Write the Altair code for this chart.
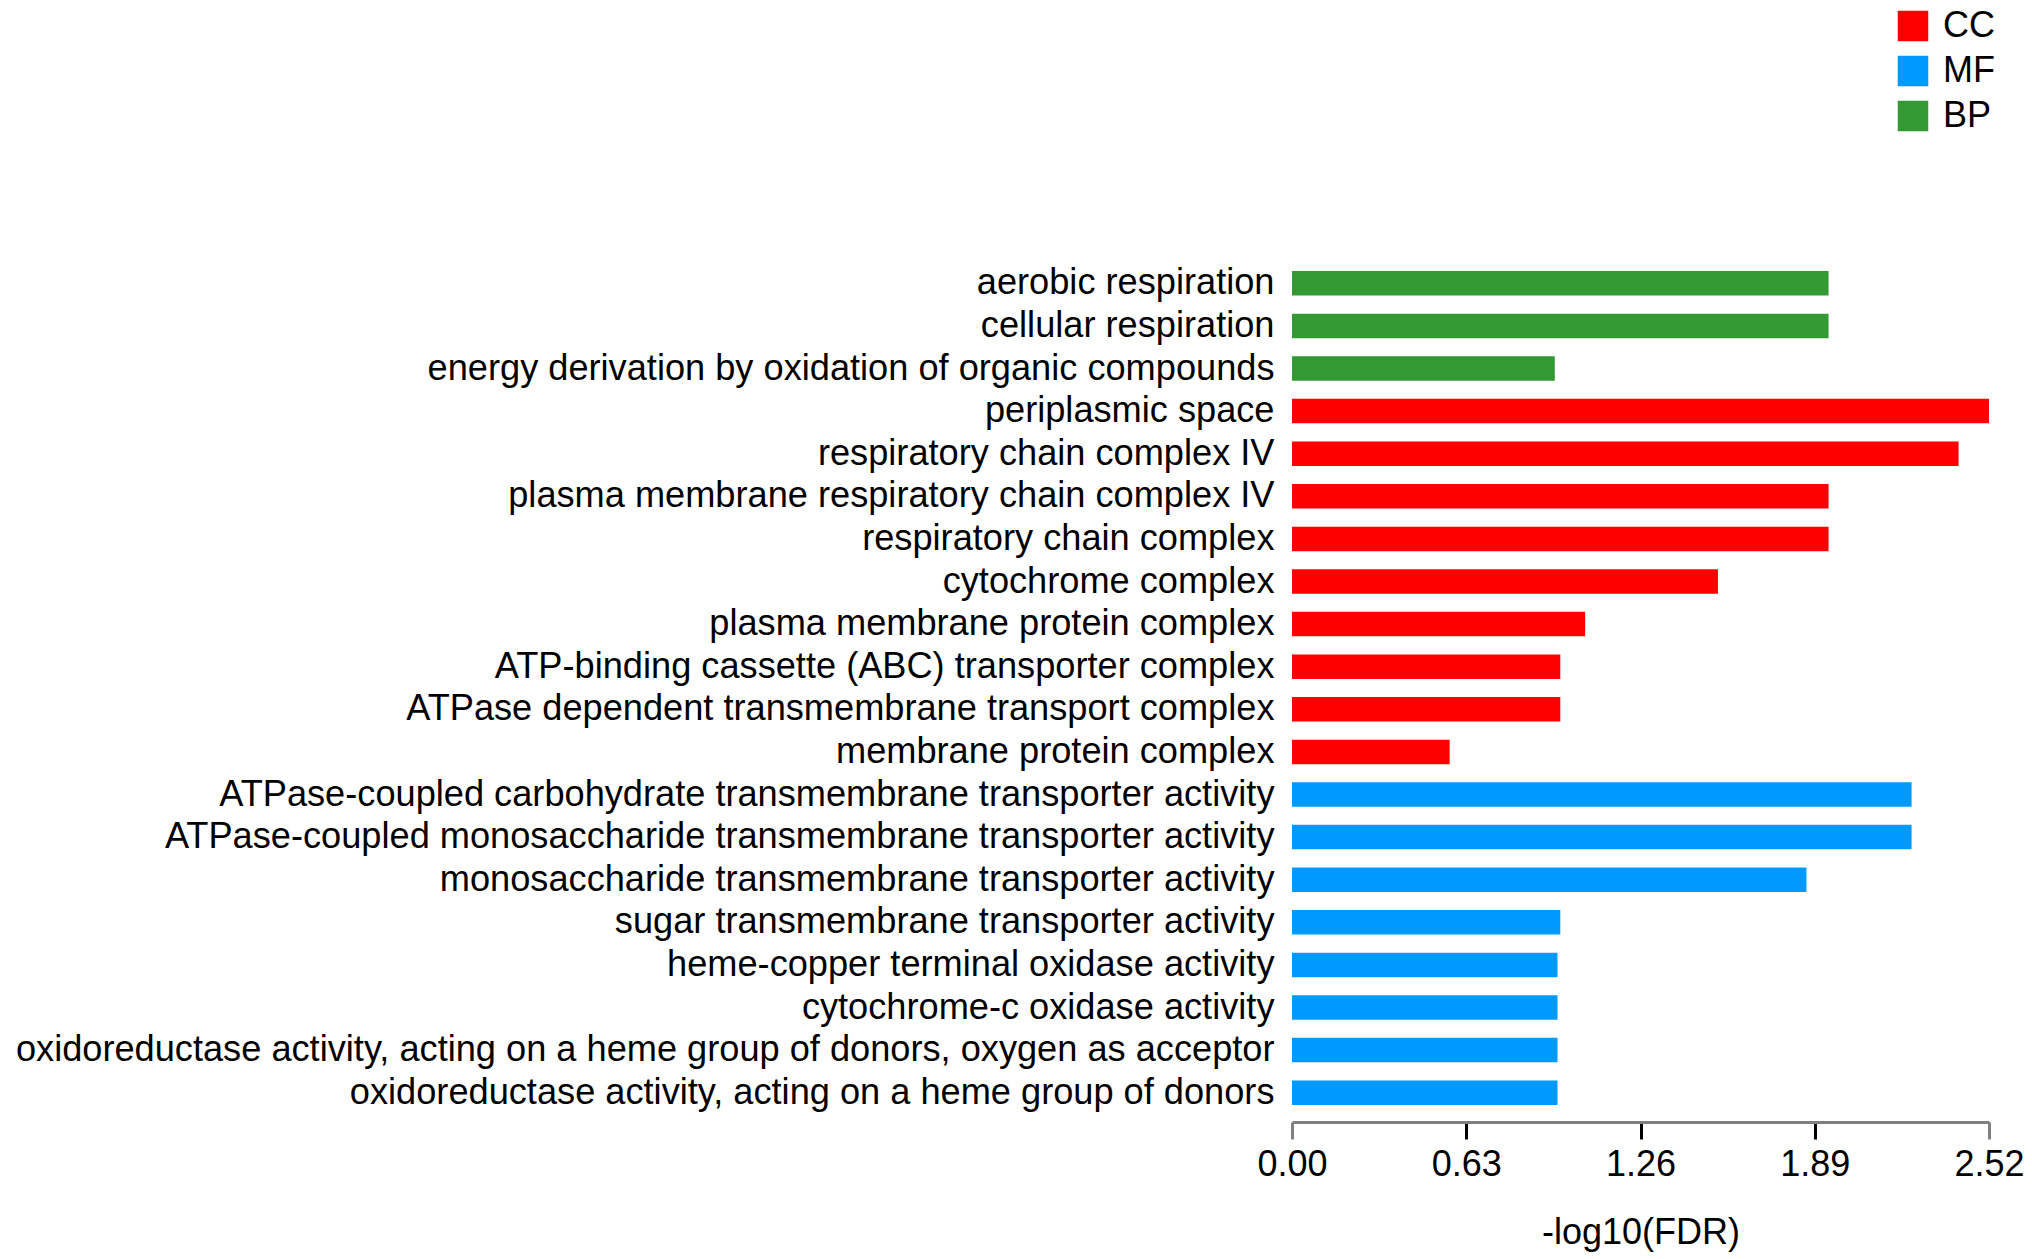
import altair as alt
import pandas as pd

terms = [
    "aerobic respiration",
    "cellular respiration",
    "energy derivation by oxidation of organic compounds",
    "periplasmic space",
    "respiratory chain complex IV",
    "plasma membrane respiratory chain complex IV",
    "respiratory chain complex",
    "cytochrome complex",
    "plasma membrane protein complex",
    "ATP-binding cassette (ABC) transporter complex",
    "ATPase dependent transmembrane transport complex",
    "membrane protein complex",
    "ATPase-coupled carbohydrate transmembrane transporter activity",
    "ATPase-coupled monosaccharide transmembrane transporter activity",
    "monosaccharide transmembrane transporter activity",
    "sugar transmembrane transporter activity",
    "heme-copper terminal oxidase activity",
    "cytochrome-c oxidase activity",
    "oxidoreductase activity, acting on a heme group of donors, oxygen as acceptor",
    "oxidoreductase activity, acting on a heme group of donors",
]
values = [1.94, 1.94, 0.95, 2.52, 2.41, 1.94, 1.94, 1.54, 1.06, 0.97, 0.97, 0.57,
          2.24, 2.24, 1.86, 0.97, 0.96, 0.96, 0.96, 0.96]
groups = ["BP", "BP", "BP", "CC", "CC", "CC", "CC", "CC", "CC", "CC", "CC", "CC",
          "MF", "MF", "MF", "MF", "MF", "MF", "MF", "MF"]

legend_order = ["CC", "MF", "BP"]
legend_colors = ["#FF0000", "#0099FF", "#339933"]
tick_values = [0.00, 0.63, 1.26, 1.89, 2.52]

df = pd.DataFrame({"term": terms, "value": values, "group": groups})

FONT = "Liberation Sans"

chart = alt.Chart(df).mark_bar(size=24.5).encode(
    y=alt.Y("term:N", sort=terms, title=None,
            axis=alt.Axis(domain=False, ticks=False, labelPadding=18,
                          labelFontSize=36.2, labelFont=FONT, labelColor="black",
                          labelLimit=0)),
    x=alt.X("value:Q", title="-log10(FDR)",
            scale=alt.Scale(domain=[0, 2.52], nice=False, zero=True),
            axis=alt.Axis(values=tick_values, format=".2f", grid=False,
                          domainColor="#808080", domainWidth=3,
                          tickColor={"condition": {"test": "datum.value == 0 || datum.value == 2.52",
                                                   "value": "#808080"}, "value": "black"},
                          tickWidth=3, tickSize=17, offset=8,
                          labelPadding=8, labelFontSize=36, labelFont=FONT,
                          labelColor="black", labelFlush=False,
                          titleFontSize=36, titleFont=FONT, titleFontWeight="normal",
                          titleColor="black", titlePadding=33)),
    color=alt.Color("group:N",
                    scale=alt.Scale(domain=legend_order, range=legend_colors),
                    legend=alt.Legend(title=None, orient="none", legendX=603, legendY=-254,
                                      symbolType="square", symbolSize=930,
                                      symbolStrokeWidth=0, symbolOpacity=1,
                                      labelFontSize=36, labelFont=FONT, labelColor="black",
                                      labelOffset=12, rowPadding=9, padding=0)),
).properties(
    width=697,
    height=852,
    autosize=alt.AutoSizeParams(type="none"),
    padding={"left": 1284, "top": 254, "right": 35, "bottom": 143},
).configure_view(stroke=None).configure_scale(bandPaddingInner=0.43, bandPaddingOuter=0.215)

chart.save("out.html", embed_options={"renderer": "svg", "actions": False})
